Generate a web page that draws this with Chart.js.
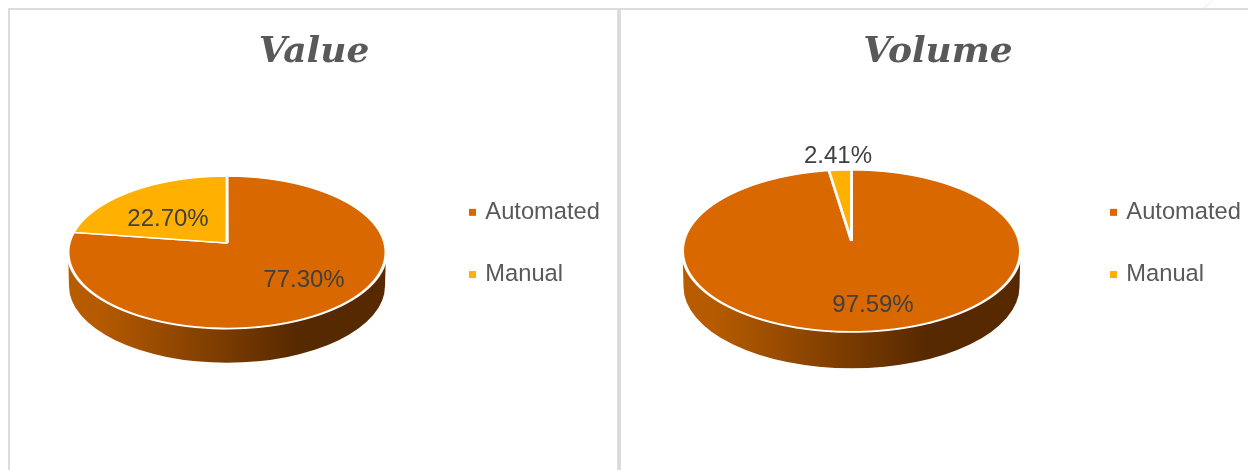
<!DOCTYPE html>
<html>
<head>
<meta charset="utf-8">
<title>Value and Volume</title>
<script src="https://cdn.jsdelivr.net/npm/chart.js@4/dist/chart.umd.min.js"></script>
<style>
  html, body { margin: 0; padding: 0; background: #fff; width: 1248px; height: 470px; overflow: hidden; }
  canvas { position: absolute; top: 10px; }
  #valueChart { left: 10px; }
  #volumeChart { left: 621px; }
  .rule { position: absolute; background: #dcdcdc; }
</style>
</head>
<body>
<div class="rule" style="left:8px;top:8px;width:1240px;height:2px"></div>
<div class="rule" style="left:8px;top:8px;width:2px;height:462px"></div>
<div class="rule" style="left:617px;top:9px;width:4px;height:461px"></div>
<div class="rule" style="left:1202px;top:4px;width:12px;height:1px;background:#eee;transform:rotate(-40deg)"></div>
<canvas id="valueChart" width="608" height="460"></canvas>
<canvas id="volumeChart" width="634" height="460"></canvas>
<script>
const categories = ['Automated', 'Manual'];
const valueShares = [77.30, 22.70];
const volumeShares = [97.59, 2.41];
const sliceColors = ['#D96800', '#FFB000'];

// label offsets from the pie center, same order as categories
const valueLabelOffsets = [[77, 37], [-59, -24]];
const volumeLabelOffsets = [[21.5, 64], [-13.5, -85]];

const FONT_SANS = '"Liberation Sans", Arial, sans-serif';

// how far the disc reaches above and below its center, as a share of the radius
const BACK_SQUASH = 0.42;
const FRONT_SQUASH = 0.538;

// perspective terms derived from the two squash values
const PERSP_C = (BACK_SQUASH - FRONT_SQUASH) / (BACK_SQUASH + FRONT_SQUASH);
const PERSP_A = FRONT_SQUASH * (1 + PERSP_C);
const PERSP_S = Math.sqrt(1 - PERSP_C * PERSP_C);

function drawWall(ctx, cx, cy, r) {
  const grad = ctx.createLinearGradient(cx - r, 0, cx + r, 0);
  grad.addColorStop(0, '#B85C00');
  grad.addColorStop(0.1, '#B55A00');
  grad.addColorStop(0.72, '#572900');
  grad.addColorStop(1, '#572900');
  ctx.save();
  ctx.fillStyle = grad;
  ctx.beginPath();
  ctx.moveTo(cx - r, cy + 0.05 * r);
  ctx.lineTo(cx - r + 1, cy + 0.27 * r);
  ctx.ellipse(cx, cy + 0.27 * r, r - 1, 0.483 * r, 0, Math.PI, 0, true);
  ctx.lineTo(cx + r, cy + 0.05 * r);
  ctx.closePath();
  ctx.fill();
  ctx.restore();
}

// canvas 2d has no projective transform, so the arcs are drawn one pixel row
// at a time, each row with its own affine scale
function drawTiltedArcs(chart, meta, cx, cy, r) {
  const ctx = chart.ctx;
  const firstRow = Math.floor(cy - BACK_SQUASH * r) - 2;
  const lastRow = Math.ceil(cy + FRONT_SQUASH * r) + 2;
  for (let row = firstRow; row <= lastRow; row++) {
    const t = (row + 0.5 - cy) / r;
    const v = t / (PERSP_A - PERSP_C * t);
    const d = 1 + PERSP_C * v;
    ctx.save();
    ctx.beginPath();
    ctx.rect(0, row, chart.width, 1);
    ctx.clip();
    ctx.translate(cx, row + 0.5);
    ctx.scale(PERSP_S / d, PERSP_A / (d * d));
    ctx.translate(-cx, -(cy + v * r));
    meta.controller.draw();
    ctx.restore();
  }
}

const tiltedPie = {
  id: 'tiltedPie',
  afterLayout(chart) {
    const { legendAt, titleShift } = chart.options.plugins.tiltedPie;
    const legend = chart.legend;
    const w = legend.width, h = legend.height;
    legend.left = legendAt[0];
    legend.right = legendAt[0] + w;
    legend.top = legendAt[1];
    legend.bottom = legendAt[1] + h;

    // title is centered on the whole panel, not the padded pie area
    const title = chart.titleBlock;
    title.left = 0;
    title.right = chart.width;
    title.top += titleShift;
    title.bottom += titleShift;
  },
  beforeDatasetsDraw(chart) {
    const ctx = chart.ctx;
    const meta = chart.getDatasetMeta(0);
    const arc = meta.data[0];
    const cx = arc.x, cy = arc.y, r = arc.outerRadius;

    drawWall(ctx, cx, cy, r);
    drawTiltedArcs(chart, meta, cx, cy, r);

    // value labels
    const offsets = chart.options.plugins.tiltedPie.labelOffsets;
    const values = chart.data.datasets[0].data;
    ctx.save();
    ctx.font = '24px ' + FONT_SANS;
    ctx.fillStyle = '#404040';
    ctx.textAlign = 'center';
    ctx.textBaseline = 'middle';
    values.forEach((v, i) => {
      ctx.fillText(v.toFixed(2) + '%', cx + offsets[i][0], cy + offsets[i][1]);
    });
    ctx.restore();
    return false;
  }
};

function makePie(id, title, shares, padding, titleBottom, legendAt, labelOffsets) {
  return new Chart(document.getElementById(id), {
    type: 'pie',
    data: {
      labels: categories,
      datasets: [{
        data: shares,
        backgroundColor: sliceColors,
        borderColor: '#fff',
        borderWidth: 3
      }]
    },
    options: {
      responsive: false,
      animation: false,
      layout: { padding },
      plugins: {
        tooltip: { enabled: false },
        tiltedPie: { legendAt, labelOffsets, titleShift: 4 },
        title: {
          display: true,
          text: title,
          color: '#595959',
          font: { family: '"DejaVu Serif", serif', size: 36, weight: 'bold', style: 'italic', lineHeight: 1.2 },
          padding: { top: 17, bottom: titleBottom }
        },
        legend: {
          position: 'chartArea',
          align: 'start',
          labels: {
            color: '#595959',
            font: { family: FONT_SANS, size: 23.7 },
            usePointStyle: true,
            pointStyle: 'rect',
            boxWidth: 2,
            boxHeight: 7,
            padding: 38.5,
            generateLabels(chart) {
              return Chart.overrides.pie.plugins.legend.labels.generateLabels(chart)
                .map(item => ({ ...item, lineWidth: 0 }));
            }
          }
        }
      }
    },
    plugins: [tiltedPie]
  });
}

makePie('valueChart', 'Value', valueShares,
  { left: 56.5, right: 230.5, top: 0, bottom: 66.5 }, 12.3, [423, 152], valueLabelOffsets);
makePie('volumeChart', 'Volume', volumeShares,
  { left: 60, right: 233, top: 0, bottom: 58.5 }, 0.3, [453, 152], volumeLabelOffsets);
</script>
</body>
</html>
